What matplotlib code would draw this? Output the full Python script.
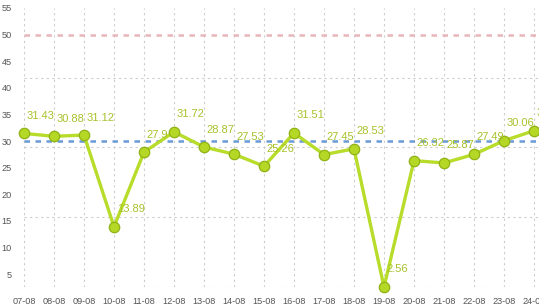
import numpy as np
import matplotlib.pyplot as plt
from matplotlib.ticker import FixedLocator

plt.rcParams['font.family'] = ['Liberation Sans', 'DejaVu Sans']

dates = ["07-08", "08-08", "09-08", "10-08", "11-08", "12-08", "13-08", "14-08", "15-08",
         "16-08", "17-08", "18-08", "19-08", "20-08", "21-08", "22-08", "23-08", "24-08"]
values = [31.43, 30.88, 31.12, 13.89, 27.9, 31.72, 28.87, 27.53, 25.26,
          31.51, 27.45, 28.53, 2.56, 26.32, 25.87, 27.49, 30.06, 31.93]
avg_line = 30
limit_line = 50
y_ticks = [5, 10, 15, 20, 25, 30, 35, 40, 45, 50, 55]

W, H = 539, 308
fig = plt.figure(figsize=(W / 100, H / 100), dpi=100)
ax = fig.add_axes([24 / W, 1 - 287 / H, 1 - 24 / W, (287 - 8) / H])

x = np.arange(len(dates))
ymin, ymax = min(values), 55

# reference lines
ax.axhline(limit_line, color="#e8b5b9", lw=1.8, ls=(0, (2.2, 2.2)), zorder=2)
ax.axhline(avg_line, color="#6a9bd6", lw=1.8, ls=(0, (2.2, 2.2)), zorder=2)

ax.plot(x, values, color="#b8dc2a", lw=2.4, marker="o", markersize=7.5,
        markerfacecolor="#b5d826", markeredgecolor="#90b214", markeredgewidth=0.9,
        zorder=4, clip_on=False)

for xi, v in zip(x, values):
    ax.annotate(f"{v:g}", (xi, v), xytext=(2, 9), textcoords="offset points",
                color="#a7c22a", fontsize=8, ha="left", va="bottom", zorder=5)

ax.set_xlim(0, (W - 24) / 30)
ax.set_ylim(ymin, ymax)
ax.set_xticks(x)
ax.set_xticklabels(dates)
ax.set_yticks(y_ticks)
ax.yaxis.set_minor_locator(FixedLocator(np.linspace(ymin, ymax, 5)))
ax.tick_params(axis="both", length=0, labelsize=6.6, labelcolor="#555555")
ax.tick_params(axis="x", pad=7.5)
ax.tick_params(axis="y", pad=9)
ax.tick_params(which="minor", length=0)

ax.grid(False)
ax.xaxis.grid(True, which="major", color="#cccccc", ls=(0, (2, 3)), lw=0.8)
ax.yaxis.grid(True, which="minor", color="#cccccc", ls=(0, (2, 3)), lw=0.8)
for s in ax.spines.values():
    s.set_visible(False)

fig.savefig("out.png", dpi=100)
